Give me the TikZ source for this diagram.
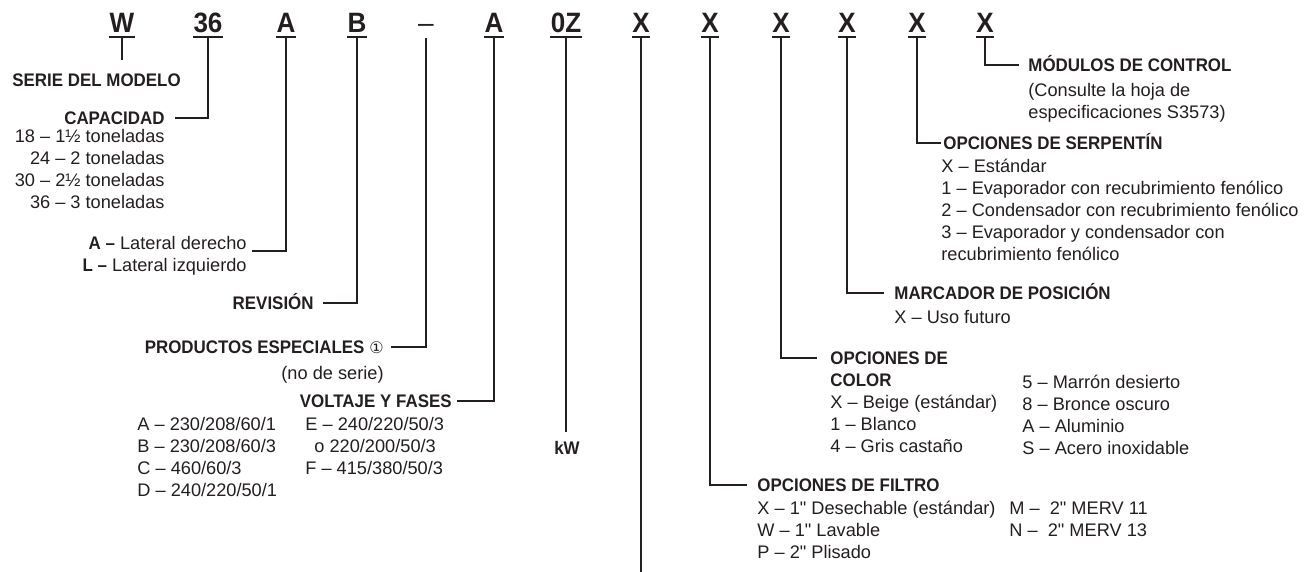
\documentclass[tikz,border=0pt]{standalone}
\usepackage{fontspec}
\setmainfont{Liberation Sans}[Ligatures=TeXOff, BoldFeatures={FakeStretch=0.93}]
\newfontfamily\symfont{DejaVu Sans}
\definecolor{ink}{HTML}{231F20}

\begin{document}
\begin{tikzpicture}[x=0.5pt, y=-0.5pt,
    every node/.style={font=\fontsize{9.1}{11}\selectfont, text=ink, inner sep=0pt},
    code/.style={font=\fontsize{14}{16}\selectfont\bfseries, anchor=south, text depth=0pt, inner ysep=2pt},
    title/.style={font=\fontsize{9.1}{11}\selectfont\bfseries, text height=6.5pt, text depth=0pt},
    list/.style={align=left, anchor=north west},
    link/.style={draw=ink, line width=1.3pt},
    uline/.style={draw=ink, line width=0.8pt}]

    \useasboundingbox (0,0) rectangle (1312,572);

    % model number
    \node[code] (cW) at (122,37) {W};
    \node[code] (c36) at (208,37) {36};
    \node[code] (cA) at (286,37) {A};
    \node[code] (cB) at (357,37) {B};
    \node[code] (cDash) at (426,37) {\mdseries –};
    \node[code] (cV) at (494,37) {A};
    \node[code] (cK) at (566,37) {0Z};
    \node[code] (cX1) at (641,37) {X};
    \node[code] (cX2) at (710,37) {X};
    \node[code] (cX3) at (781,37) {X};
    \node[code] (cX4) at (847,37) {X};
    \node[code] (cX5) at (917,37) {X};
    \node[code] (cX6) at (985,37) {X};
    \foreach \c in {cW,c36,cA,cB,cV,cK,cX1,cX2,cX3,cX4,cX5,cX6}
        \draw[uline] (\c.south west) -- (\c.south east);

    % serie del modelo
    \node[title, anchor=west] (serie) at (12,80) {SERIE DEL MODELO};
    \coordinate (serieEnd) at (122,60);
    \draw[link] (cW.south) -- (serieEnd);

    % capacidad
    \node[title, anchor=east] (cap) at (165,118) {CAPACIDAD};
    \node[align=right, anchor=north east] (capList) at (165,129)
        {18 – 1½ toneladas\\24 – 2 toneladas\\30 – 2½ toneladas\\36 – 3 toneladas};
    \draw[link] (c36.south) |- ([xshift=5pt]cap.east);

    % lado
    \node[align=right, anchor=north east] (lado) at (247,236)
        {\textbf{A –} Lateral derecho\\\textbf{L –} Lateral izquierdo};
    \coordinate (ladoEnd) at (252,251);
    \draw[link] (cA.south) |- (ladoEnd);

    % revision
    \node[title, anchor=east] (rev) at (314,303) {REVISIÓN};
    \draw[link] (cB.south) |- ([xshift=4.5pt]rev.east);

    % productos especiales
    \node[title, anchor=east] (prod) at (384,347) {PRODUCTOS ESPECIALES {\symfont\mdseries\fontsize{8}{10}\selectfont ①}};
    \node[anchor=north east] (noserie) at (384,366) {(no de serie)};
    \draw[link] ([yshift=-0.5pt]cDash.south) |- ([xshift=3.5pt]prod.east);

    % voltaje y fases
    \node[title, anchor=east] (volt) at (452,401) {VOLTAJE Y FASES};
    \node[list] (voltL) at (137,417)
        {A – 230/208/60/1\\B – 230/208/60/3\\C – 460/60/3\\D – 240/220/50/1};
    \node[list] (voltR) at (305,417)
        {E – 240/220/50/3\\\hspace*{4.5pt}o 220/200/50/3\\F – 415/380/50/3};
    \draw[link] (cV.south) |- ([xshift=2.5pt]volt.east);

    % kW
    \node[title] (kw) at (567,448) {kW};
    \coordinate (kwEnd) at (566,432);
    \draw[link] (cK.south) -- (kwEnd);

    % long line
    \coordinate (bottomEnd) at (641,572);
    \draw[link] (cX1.south) -- (bottomEnd);

    % opciones de filtro
    \node[title, anchor=west] (filtro) at (757,485) {OPCIONES DE FILTRO};
    \node[list] (filtroL) at (757,501)
        {X – 1" Desechable (estándar)\\W – 1" Lavable\\P – 2" Plisado};
    \node[list] (filtroR) at (1009,501) {M – \ 2" MERV 11\\N – \ 2" MERV 13};
    \draw[link] (cX2.south) |- ([xshift=-5pt]filtro.west);

    % opciones de color
    \node[title, anchor=west] (color) at (830,358) {OPCIONES DE};
    \node[title, anchor=west] (color2) at (830,380) {COLOR};
    \node[list] (colorL) at (830,395)
        {X – Beige (estándar)\\1 – Blanco\\4 – Gris castaño};
    \node[list] (colorR) at (1022,375)
        {5 – Marrón desierto\\8 – Bronce oscuro\\A – Aluminio\\S – Acero inoxidable};
    \draw[link] (cX3.south) |- ([xshift=-6.5pt]color.west);

    % marcador de posicion
    \node[title, anchor=west] (marc) at (894,293) {MARCADOR DE POSICIÓN};
    \node[list] (marcL) at (894,310) {X – Uso futuro};
    \draw[link] (cX4.south) |- ([xshift=-5pt]marc.west);

    % opciones de serpentin
    \node[title, anchor=west] (serp) at (943,143) {OPCIONES DE SERPENTÍN};
    \node[list] (serpL) at (941,159)
        {X – Estándar\\1 – Evaporador con recubrimiento fenólico\\2 – Condensador con recubrimiento fenólico\\3 – Evaporador y condensador con\\recubrimiento fenólico};
    \draw[link] (cX5.south) |- ([xshift=-1pt]serp.west);

    % modulos de control
    \node[title, anchor=west] (mod) at (1028,65) {MÓDULOS DE CONTROL};
    \node[list] (modL) at (1028,83) {(Consulte la hoja de\\especificaciones S3573)};
    \draw[link] (cX6.south) |- ([xshift=-4.5pt]mod.west);

\end{tikzpicture}
\end{document}
